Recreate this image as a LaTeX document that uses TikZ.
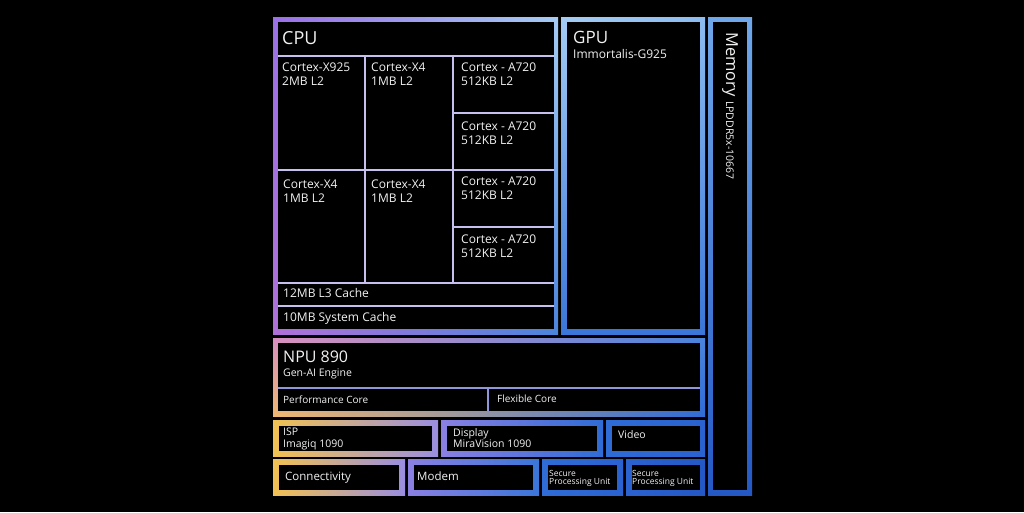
\documentclass[tikz,border=0pt]{standalone}
\usepackage{fontspec}
\setmainfont{Open Sans}
\usetikzlibrary{fit,shadings}
\definecolor{txt}{HTML}{F2F2F2}
\definecolor{cellline}{HTML}{C6C0EE}
\definecolor{npuline}{HTML}{9096DC}
\definecolor{violetA}{HTML}{9A70E6}
\definecolor{violetB}{HTML}{B070D8}
\definecolor{skyA}{HTML}{A4CCF4}
\definecolor{skyB}{HTML}{8CBCF0}
\definecolor{blueA}{HTML}{4A84DC}
\definecolor{blueB}{HTML}{3A76D8}
\definecolor{blueC}{HTML}{2F6CD6}
\definecolor{blueD}{HTML}{2A62D0}
\definecolor{blueE}{HTML}{2458C4}
\definecolor{memtop}{HTML}{6FA8EA}
\definecolor{pinkA}{HTML}{D890C0}
\definecolor{goldA}{HTML}{F0B870}
\definecolor{goldB}{HTML}{F2C252}
\definecolor{lavA}{HTML}{9A8EE0}
\definecolor{lavB}{HTML}{8A80E2}
\tikzset{
  frame/.style={inner sep=0pt, outer sep=0pt},
  cell/.style={fill=black, inner sep=0pt, outer sep=0pt},
  tag/.style={anchor=north west, inner sep=0pt, text=txt, align=left, font=\fontsize{12}{14}\selectfont},
  head/.style={tag, font=\fontsize{18}{20}\selectfont},
  small/.style={tag, font=\fontsize{10.5}{11.5}\selectfont},
  tiny/.style={tag, font=\fontsize{8.5}{8.5}\selectfont},
  gridline/.style={draw=cellline, line width=1.6pt},
}
\begin{document}
\begin{tikzpicture}[x=1pt,y=-1pt]
	\fill[black] (0,0) rectangle (1024,512);
	\useasboundingbox (0,0) rectangle (1024,512);
	% frames
	\shade[upper left=violetA, upper right=skyA, lower left=violetB, lower right=blueA] (273,17) rectangle (558,334);
	\shade[upper left=skyA, upper right=skyB, lower left=blueB, lower right=blueB] (561,17) rectangle (705,334);
	\shade[top color=memtop, bottom color=blueE] (708,17) rectangle (752,495);
	\shade[upper left=pinkA, upper right=blueA, lower left=goldA, lower right=blueC] (273,338) rectangle (705,416);
	\shade[left color=goldB, right color=lavA] (273,420) rectangle (438,456);
	\shade[left color=lavB, right color=blueC] (441,420) rectangle (603,456);
	\shade[left color=blueC, right color=blueD] (606,420) rectangle (705,456);
	\shade[left color=goldB, right color=lavA] (273,459) rectangle (405,495);
	\shade[left color=lavB, right color=blueB] (408,459) rectangle (539,495);
	\shade[left color=blueC, right color=blueD] (542,459) rectangle (623,495);
	\shade[left color=blueD, right color=blueE] (626,459) rectangle (705,495);
	% inner boxes
	\node[cell, fit={(278,22) (554,329)}] (cpu) {};
	\node[cell, fit={(567,22) (700,329)}] (gpu) {};
	\node[cell, fit={(713,22) (747,490)}] (mem) {};
	\node[cell, fit={(278,343) (700,411)}] (npu) {};
	\node[cell, fit={(279,426) (432,451)}] (isp) {};
	\node[cell, fit={(447,426) (597,451)}] (disp) {};
	\node[cell, fit={(612,426) (700,451)}] (video) {};
	\node[cell, fit={(279,465) (399,490)}] (conn) {};
	\node[cell, fit={(414,465) (533,490)}] (modem) {};
	\node[cell, fit={(548,465) (617,490)}] (spua) {};
	\node[cell, fit={(632,465) (700,490)}] (spub) {};
	% cpu cells
	\node[cell, fit={(278,56) (365,170)}] (x925) {};
	\node[cell, fit={(365,56) (453,170)}] (x4a) {};
	\node[cell, fit={(453,56) (554,113)}] (a720a) {};
	\node[cell, fit={(453,113) (554,170)}] (a720b) {};
	\node[cell, fit={(278,170) (365,283)}] (x4b) {};
	\node[cell, fit={(365,170) (453,283)}] (x4c) {};
	\node[cell, fit={(453,170) (554,227)}] (a720c) {};
	\node[cell, fit={(453,227) (554,283)}] (a720d) {};
	\node[cell, fit={(278,283) (554,306)}] (l3) {};
	\node[cell, fit={(278,306) (554,329)}] (slc) {};
	\node[cell, fit={(278,388) (488,411)}] (perf) {};
	\node[cell, fit={(488,388) (700,411)}] (flex) {};
	\draw[gridline] (x925.north west) -- (a720a.north east);
	\draw[gridline] (x4b.north west) -- (a720c.north east);
	\draw[gridline] (l3.north west) -- (l3.north east);
	\draw[gridline] (slc.north west) -- (slc.north east);
	\draw[gridline] (x4a.north west) -- (x4c.south west);
	\draw[gridline] (a720a.north west) -- (a720d.south west);
	\draw[gridline] (a720b.north west) -- (a720b.north east);
	\draw[gridline] (a720d.north west) -- (a720d.north east);
	\draw[gridline, npuline] (perf.north west) -- (flex.north east);
	\draw[gridline, npuline] (flex.north west) -- (flex.south west);
	% texts
	\node[head] (cputxt) at (282,31) {CPU};
	\node[tag] (x925txt) at (282,63) {Cortex-X925\\2MB L2};
	\node[tag] (x4atxt) at (371,63) {Cortex-X4\\1MB L2};
	\node[tag] (a720atxt) at (461,63) {Cortex - A720\\512KB L2};
	\node[tag] (a720btxt) at (461,122) {Cortex - A720\\512KB L2};
	\node[tag] (x4btxt) at (283,180) {Cortex-X4\\1MB L2};
	\node[tag] (x4ctxt) at (371,180) {Cortex-X4\\1MB L2};
	\node[tag] (a720ctxt) at (461,177) {Cortex - A720\\512KB L2};
	\node[tag] (a720dtxt) at (461,235) {Cortex - A720\\512KB L2};
	\node[tag] (l3txt) at (283,288) {12MB L3 Cache};
	\node[tag] (slctxt) at (283,312) {10MB System Cache};
	\node[head, font=\fontsize{17}{19}\selectfont] (gputxt) at (573,31) {GPU};
	\node[tag] (gpusub) at (573,49) {Immortalis-G925};
	\node[tag, rotate=-90, anchor=base west, font=\fontsize{16.5}{18}\selectfont] (memtxt) at (726,32) {Memory {\fontsize{10.5}{12}\selectfont LPDDR5x-10667}};
	\node[head, font=\fontsize{16}{18}\selectfont] (nputxt) at (283,351) {NPU 890};
	\node[small] (npusub) at (283,369) {Gen-AI Engine};
	\node[small, font=\fontsize{10}{11}\selectfont] (perftxt) at (283,396) {Performance Core};
	\node[small, font=\fontsize{10}{11}\selectfont] (flextxt) at (497,395) {Flexible Core};
	\node[small] (isptxt) at (283,428) {ISP\\Imagiq 1090};
	\node[small] (disptxt) at (453,428) {Display\\MiraVision 1090};
	\node[small] (videotxt) at (618,430) {Video};
	\node[tag, font=\fontsize{11.5}{13}\selectfont] (conntxt) at (285,472) {Connectivity};
	\node[tag, font=\fontsize{11.5}{13}\selectfont] (modemtxt) at (417,472) {Modem};
	\node[tiny] (spuatxt) at (549,470) {Secure\\Processing Unit};
	\node[tiny] (spubtxt) at (632,470) {Secure\\Processing Unit};
\end{tikzpicture}
\end{document}
